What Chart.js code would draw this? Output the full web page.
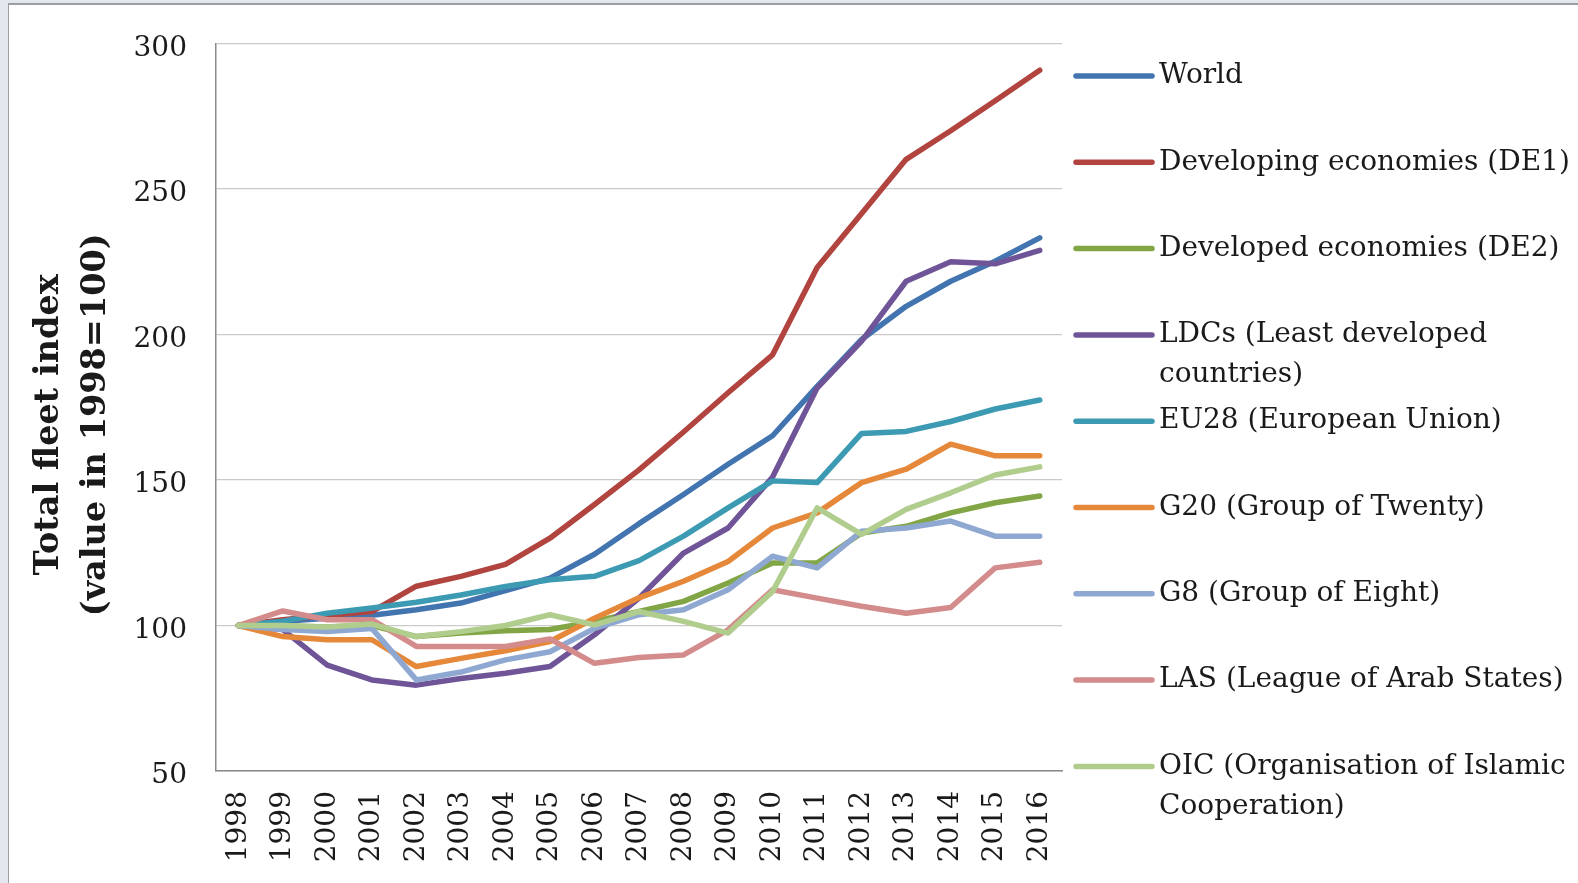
<!DOCTYPE html>
<html>
<head>
<meta charset="utf-8">
<title>Total fleet index</title>
<script src="https://cdn.jsdelivr.net/npm/chart.js@4.4.0/dist/chart.umd.min.js"></script>
<style>
  html, body { margin: 0; padding: 0; background: #e3e6ec; overflow: hidden; }
  #frame {
    position: absolute; left: 8px; top: 3px; width: 1570px; height: 880px;
    background: #fff; border-left: 1px solid #9b9ea3; border-top: 2px solid #9b9ea3;
  }
  #frame canvas { display: block; }
</style>
</head>
<body>
<div id="frame"><canvas id="fleetChart" width="1569" height="878"></canvas></div>
<script>
// years on the x axis
const years = ['1998', '1999', '2000', '2001', '2002', '2003', '2004', '2005', '2006', '2007',
               '2008', '2009', '2010', '2011', '2012', '2013', '2014', '2015', '2016'];

// index values (1998 = 100)
const world = [100, 101.5, 102.5, 103.5, 105.4, 107.7, 112, 116.3, 124.5, 135, 145, 155.4, 165.2, 182.2, 198.3, 209.7, 218.3, 225.2, 233.2];
const de1   = [100, 102, 103.5, 104.8, 113.5, 116.9, 121, 130, 141.6, 153.5, 166.5, 180, 193, 223, 241.6, 260.2, 270, 280.3, 290.8];
const de2   = [100, 99.8, 99.5, 100, 96.2, 97.4, 98.2, 98.6, 101.4, 104.8, 108.3, 114.6, 121.5, 121.5, 131.8, 134.1, 138.7, 142.2, 144.5];
const ldcs  = [100, 98.6, 86.4, 81.3, 79.5, 81.8, 83.6, 85.9, 96.8, 109.4, 124.9, 133.5, 151, 181.6, 197.7, 218.3, 225, 224.3, 228.9];
const eu28  = [100, 101.5, 104.2, 106, 108, 110.5, 113.4, 115.7, 116.9, 122.3, 130.7, 140.4, 149.7, 149.1, 166, 166.7, 170.1, 174.4, 177.5];
const g20   = [100, 96.2, 95.1, 95.1, 85.9, 88.7, 91.3, 94.5, 102.5, 109.5, 115.2, 122, 133.5, 138.7, 149.1, 153.7, 162.3, 158.3, 158.3];
const g8    = [100, 98.6, 97.9, 99, 81.3, 84, 88.2, 91, 99, 103.7, 105.4, 112.3, 123.8, 119.8, 132.4, 133.5, 135.9, 130.7, 130.7];
const las   = [100, 105, 102, 102, 92.8, 92.8, 92.8, 95.4, 87, 89, 89.9, 98.5, 112.3, 109.4, 106.6, 104.2, 106.2, 119.8, 121.7];
const oic   = [100, 100, 99.5, 100.5, 96.2, 97.9, 100, 103.7, 100.2, 104.8, 101.4, 97.4, 111.7, 140.4, 131.3, 139.9, 145.6, 151.7, 154.5];

const seriesNames = ['World', 'Developing economies (DE1)', 'Developed economies (DE2)',
                     'LDCs (Least developed\ncountries)', 'EU28 (European Union)', 'G20 (Group of Twenty)',
                     'G8 (Group of Eight)', 'LAS (League of Arab States)', 'OIC (Organisation of Islamic\nCooperation)'];
const seriesValues = [world, de1, de2, ldcs, eu28, g20, g8, las, oic];
const seriesColors = ['#4274b0', '#b1443e', '#82a646', '#6f5597', '#3c9ab2', '#e6883a', '#8fa8d2', '#d38b8b', '#b1cd8e'];

const yTicks = [50, 100, 150, 200, 250, 300];

const serif = '"DejaVu Serif", "Liberation Serif", serif';

// legend on the right, drawn on the canvas (labels can wrap on two lines)
const sideLegend = {
    id: 'sideLegend',
    afterDraw(chart) {
        const ctx = chart.ctx;
        ctx.save();
        ctx.font = '28px ' + serif;
        ctx.textBaseline = 'middle';
        ctx.fillStyle = '#1a1a1a';
        chart.data.datasets.forEach((ds, i) => {
            const y = 71 + i * 86.3;
            ctx.strokeStyle = ds.borderColor;
            ctx.lineWidth = 5.5;
            ctx.lineCap = 'round';
            ctx.beginPath();
            ctx.moveTo(1067, y);
            ctx.lineTo(1143, y);
            ctx.stroke();
            ds.label.split('\n').forEach((line, j) => ctx.fillText(line, 1150, y + j * 40));
        });
        ctx.restore();
    }
};

const datasets = seriesNames.map((name, i) => ({
    label: name,
    data: seriesValues[i],
    borderColor: seriesColors[i],
    backgroundColor: seriesColors[i],
    borderWidth: 5.5,
    borderJoinStyle: 'round',
    borderCapStyle: 'round',
    pointRadius: 0,
    tension: 0,
    fill: false,
    order: seriesNames.length - i   // last series on top, like the original
}));

new Chart(document.getElementById('fleetChart'), {
    type: 'line',
    data: { labels: years, datasets: datasets },
    options: {
        responsive: false,
        animation: false,
        layout: { padding: { left: 0, top: 38.5, right: 516, bottom: 0 } },
        plugins: {
            legend: { display: false },
            tooltip: { enabled: false }
        },
        scales: {
            x: {
                offset: true,
                grid: { display: false },
                border: { color: '#8a8a8a', width: 1.5 },
                ticks: {
                    autoSkip: false,
                    maxRotation: 90,
                    minRotation: 90,
                    padding: 12,
                    color: '#1a1a1a',
                    font: { family: serif, size: 28 }
                },
                afterFit(scale) { scale.height = 112; }
            },
            y: {
                min: 50,
                max: 300,
                afterBuildTicks(scale) { scale.ticks = yTicks.map(v => ({ value: v })); },
                grid: { color: '#cacaca', lineWidth: 1.3, drawTicks: false },
                border: { color: '#8a8a8a', width: 1.5 },
                ticks: {
                    padding: 29,
                    color: '#1a1a1a',
                    // empty first line nudges the number a little below the gridline, as in Excel
                    callback: v => ['', String(v)],
                    font: { family: serif, size: 28, lineHeight: '10px' }
                },
                title: {
                    display: true,
                    // trailing spaces push the rotated title a bit below the axis centre
                    text: ['Total fleet index   ', '(value in 1998=100)   '],
                    color: '#1a1a1a',
                    font: { family: serif, size: 33.5, weight: 'bold', lineHeight: 1.39 },
                    padding: { top: 17.5, bottom: 0 }
                },
                afterFit(scale) {
                    scale.width = 207;
                    scale.paddingTop = 0;
                    scale.paddingBottom = 0;
                }
            }
        }
    },
    plugins: [sideLegend]
});
</script>
</body>
</html>
